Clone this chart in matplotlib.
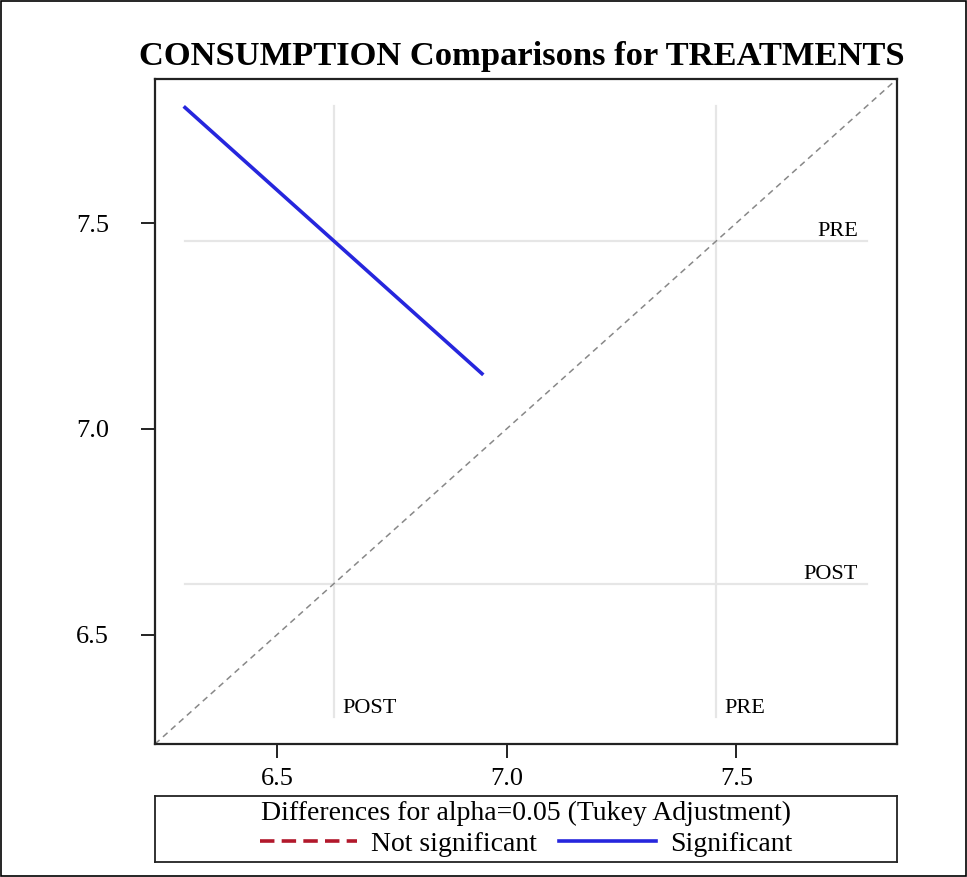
import matplotlib
matplotlib.use("Agg")
import matplotlib.pyplot as plt
from matplotlib.lines import Line2D
from matplotlib.patches import Rectangle

# ---- data ----
levels = ["POST", "PRE"]
means = [6.624, 7.456]
# pair: x = POST mean, y = PRE mean, difference CI (PRE - POST)
pair_x = "POST"
pair_y = "PRE"
diff_ci = [0.182, 1.487]
significant = True
ref_extent = [6.30, 7.785]
axis_range = [6.234, 7.85]
ticks = [6.5, 7.0, 7.5]
tick_labels = ["6.5", "7.0", "7.5"]

serif = ["Liberation Serif", "DejaVu Serif"]
plt.rcParams["font.family"] = serif

fig = plt.figure(figsize=(9.67, 8.77), dpi=100)
fig.patches.append(Rectangle((0.001, 0.001), 0.998, 0.998, transform=fig.transFigure,
                             fill=False, edgecolor="black", linewidth=1.2))

W, H = 967, 877
ax = fig.add_axes([155 / W, (H - 744) / H, 742 / W, 665 / H])
span = axis_range[1] - axis_range[0]
px_x = span / 742
px_y = span / 665

m = dict(zip(levels, means))
# reference lines
for lv in levels:
    ax.plot(ref_extent, [m[lv], m[lv]], color="#e6e6e6", lw=1.6, zorder=1)
    ax.plot([m[lv], m[lv]], ref_extent, color="#e6e6e6", lw=1.6, zorder=1)
    ax.text(ref_extent[1] - 9 * px_x, m[lv] + 5 * px_y, lv, ha="right", va="baseline",
            fontsize=16, color="black")
    ax.text(m[lv] + 8 * px_x, ref_extent[0] + 4 * px_y, lv, ha="left", va="baseline",
            fontsize=16, color="black")

# diagonal
ax.plot(axis_range, axis_range, color="#888888", lw=1.1, ls=(0, (4, 3)), zorder=2)

# diffogram segment
xc, yc = m[pair_x], m[pair_y]
d = yc - xc
xs, ys = [], []
for b in diff_ci:
    s = (b - d) / 2
    xs.append(xc - s)
    ys.append(yc + s)
ax.plot(xs, ys, color="#2626dd" if significant else "#b2182b", lw=2.6,
        solid_capstyle="butt", zorder=3)

ax.set_xlim(axis_range)
ax.set_ylim(axis_range)
ax.set_xticks(ticks)
ax.set_xticklabels(tick_labels)
ax.set_yticks(ticks)
ax.set_yticklabels(tick_labels)
ax.tick_params(direction="out", length=10, width=1.4, labelsize=19, color="#222222")
ax.tick_params(axis="x", pad=7)
ax.tick_params(axis="y", pad=23)
for sp in ax.spines.values():
    sp.set_linewidth(1.6)
    sp.set_color("#222222")

fig.text(522 / W, 1 - 57 / H, "CONSUMPTION Comparisons for TREATMENTS",
         ha="center", va="center", fontsize=24.8, fontweight="bold")

# legend box
lax = fig.add_axes([155 / W, (H - 862) / H, 742 / W, 66 / H])
lax.set_xticks([])
lax.set_yticks([])
for sp in lax.spines.values():
    sp.set_linewidth(1.3)
    sp.set_color("#222222")
handles = [Line2D([], [], color="#b2182b", lw=2.6, ls=(0, (4, 2))),
           Line2D([], [], color="#2626dd", lw=2.6)]
leg = lax.legend(handles, ["Not significant", "Significant"], loc="center", ncol=2,
                 frameon=False, fontsize=20, title="Differences for alpha=0.05 (Tukey Adjustment)",
                 title_fontsize=20, handlelength=3.5, columnspacing=0.8,
                 borderaxespad=0, borderpad=0.0, handletextpad=0.5, labelspacing=0.1)
leg._legend_box.sep = 4

fig.savefig("out.png", dpi=100)
